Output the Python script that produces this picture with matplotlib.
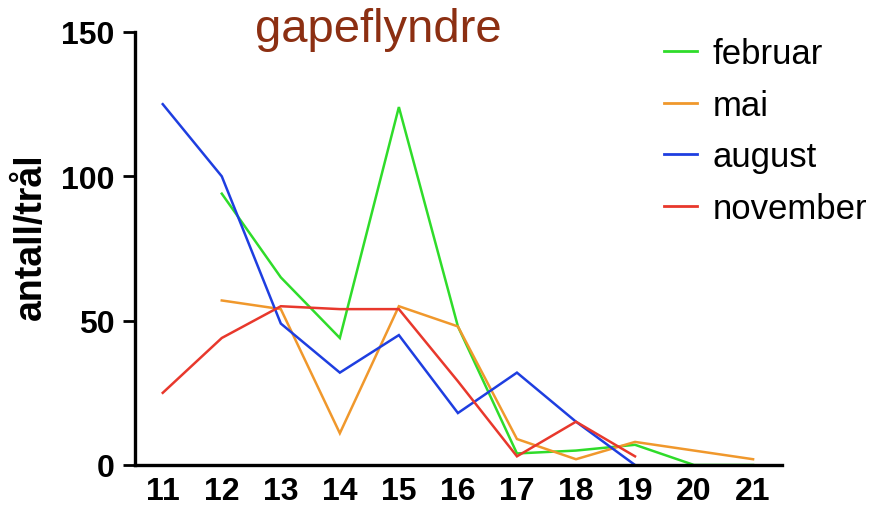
import matplotlib
matplotlib.use("Agg")
import matplotlib.pyplot as plt
import numpy as np

plt.rcParams['font.family'] = ['Liberation Sans', 'DejaVu Sans']

x_feb = [12, 13, 14, 15, 16, 17, 18, 19, 20, 21]
februar = [94, 65, 44, 124, 48, 4, 5, 7, 0, 0]

x_mai = [12, 13, 14, 15, 16, 17, 18, 19, 20, 21]
mai = [57, 54, 11, 55, 48, 9, 2, 8, 5, 2]

x_aug = [11, 12, 13, 14, 15, 16, 17, 18, 19]
august = [125, 100, 49, 32, 45, 18, 32, 15, 0]

x_nov = [11, 12, 13, 14, 15, 16, 17, 18, 19]
november = [25, 44, 55, 54, 54, 29, 3, 15, 3]

xticks = list(range(11, 22))
yticks = [0, 50, 100, 150]

fig = plt.figure(figsize=(8.74, 5.06), dpi=100)
ax = fig.add_axes([135/874, 1-466/506, (782-135)/874, (466-33)/506])

lw = 1.8
ax.plot(x_feb, februar, color='#2fdc2a', lw=lw, label='februar', solid_joinstyle='miter')
ax.plot(x_mai, mai, color='#f0982c', lw=lw, label='mai', solid_joinstyle='miter')
ax.plot(x_aug, august, color='#1e3ee0', lw=lw, label='august', solid_joinstyle='miter')
ax.plot(x_nov, november, color='#e8382c', lw=lw, label='november', solid_joinstyle='miter')

ax.set_xlim(10.53, 21.49)
ax.set_ylim(0, 150)
ax.set_xticks(xticks)
ax.set_yticks(yticks)
ax.tick_params(axis='x', length=0, pad=8, labelsize=23)
ax.tick_params(axis='y', length=8.5, width=2, pad=6, labelsize=23)
for lab in ax.get_xticklabels() + ax.get_yticklabels():
    lab.set_fontweight('bold')
for s in ['top', 'right']:
    ax.spines[s].set_visible(False)
for s in ['left', 'bottom']:
    ax.spines[s].set_linewidth(2.4)
ax.spines['left'].set_zorder(5)
ax.spines['bottom'].set_zorder(5)

fig.text(31/874, 1-237/506, 'antall/trål', fontsize=27, fontweight='bold',
         rotation=90, ha='center', va='center')

fig.text(378/874, 1-42/506, 'gapeflyndre', color='#8c2f12', fontsize=34,
         ha='center', va='baseline')

leg = ax.legend(loc='upper left', bbox_to_anchor=(664/874, 1-38/506),
                bbox_transform=fig.transFigure, frameon=False, fontsize=25,
                handlelength=0.95, handletextpad=0.45, labelspacing=0.54,
                borderpad=0, borderaxespad=0)
for h in leg.get_lines():
    h.set_linewidth(2)

fig.savefig('out.png', dpi=100)
